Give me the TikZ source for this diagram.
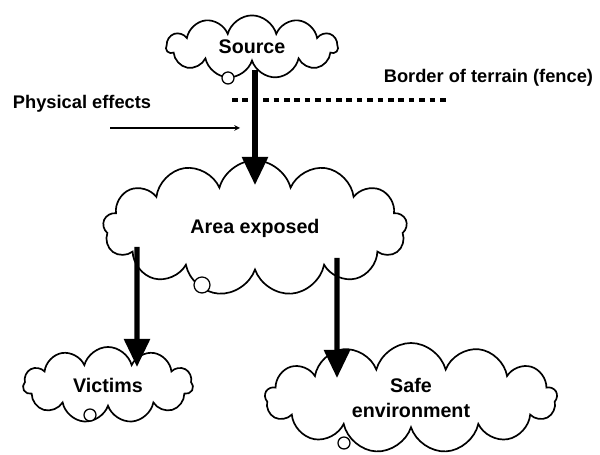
\documentclass[tikz,border=0pt]{standalone}
\usepackage{fontspec}
\setmainfont{Liberation Sans}
\usetikzlibrary{arrows.meta,shapes.symbols,calc}

\begin{document}
\begin{tikzpicture}[x=1cm,y=1cm,>=stealth,
  blob/.style={cloud,cloud puffs=11,cloud ignores aspect,draw,line width=1.2pt,inner sep=0pt,align=center,font=\fontsize{14}{18}\selectfont\bfseries},
  flow/.style={line width=3.6pt,-{Triangle[width=18pt,length=20pt]}},
  knot/.style={circle,draw,fill=white,line width=0.9pt,inner sep=0pt,minimum size=0.3cm},
  note/.style={font=\fontsize{13}{15}\selectfont\bfseries}]
\useasboundingbox (0,0) rectangle (15,11.375);
% clouds
\node[blob,minimum width=4.28cm,minimum height=1.58cm] (src) at (6.30,10.20) {Source};
\node[blob,cloud puffs=13,minimum width=7.6cm,minimum height=3.38cm] (area) at (6.375,5.675) {Area exposed};
\node[blob,minimum width=4.25cm,minimum height=1.9cm] (victims) at (2.70,1.75) {Victims};
\node[blob,cloud puffs=13,minimum width=7.3cm,minimum height=2.75cm] (safe) at (10.275,1.425) {Safe\\environment};
% little rings at the cloud bottoms
\node[knot] (srcknot) at ($(src.center)+(-0.6,-0.775)$) {};
\node[knot,minimum size=0.4cm] (areaknot) at ($(area.center)+(-1.325,-1.425)$) {};
\node[knot] (victimsknot) at ($(victims.center)+(-0.45,-0.75)$) {};
\node[knot] (safeknot) at ($(safe.center)+(-1.675,-1.125)$) {};
% fence
\draw[line width=3.5pt,dash pattern=on 4pt off 3.4pt] (5.8,8.875) -- (11.25,8.875);
\node[note,anchor=east] (fencelbl) at (14.95,9.425) {Border of terrain (fence)};
% physical effects
\node[note,anchor=west] (phys) at (0.2,8.775) {Physical effects};
\coordinate (physfrom) at (2.75,8.175);
\coordinate (physto) at (6.0,8.175);
\draw[->,line width=0.8pt] (physfrom) -- (physto);
% flows
\draw[flow] ($(src.center)+(0.075,-0.575)$) -- ($(area.center)+(0,1.075)$);
\draw[flow] ($(area.center)+(-2.95,-0.475)$) -- ($(victims.center)+(0.725,0.45)$);
\draw[flow] ($(area.center)+(2.05,-0.75)$) -- ($(safe.center)+(-1.85,0.5)$);
\end{tikzpicture}
\end{document}
